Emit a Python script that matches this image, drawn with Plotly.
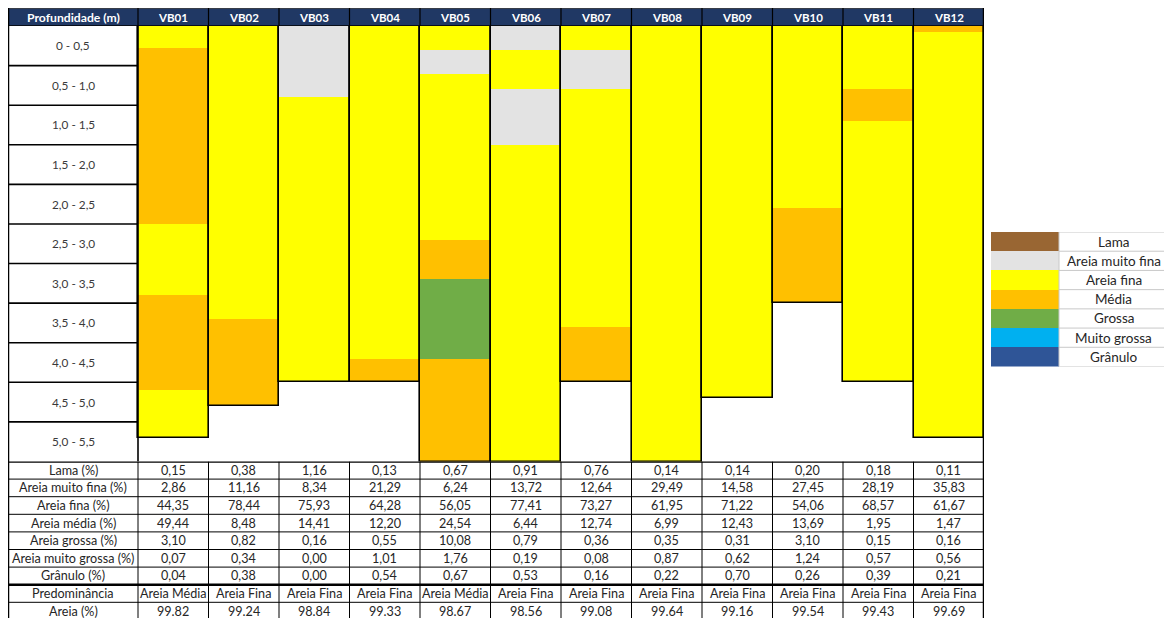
import plotly.graph_objects as go

# ---------------- data ----------------
boreholes = ["VB01", "VB02", "VB03", "VB04", "VB05", "VB06",
             "VB07", "VB08", "VB09", "VB10", "VB11", "VB12"]
depth_labels = ["0 - 0,5", "0,5 - 1,0", "1,0 - 1,5", "1,5 - 2,0", "2,0 - 2,5",
                "2,5 - 3,0", "3,0 - 3,5", "3,5 - 4,0", "4,0 - 4,5", "4,5 - 5,0",
                "5,0 - 5,5"]
depth_step = 0.5
max_depth = 5.5

legend_names = ["Lama", "Areia muito fina", "Areia fina", "Média",
                "Grossa", "Muito grossa", "Grânulo"]
legend_colors = ["#996633", "#E3E3E3", "#FFFF00", "#FFC000",
                 "#70AD47", "#00B0F0", "#2F5597"]

# layers: (type, top m, bottom m)
layers_VB01 = [("Areia fina", 0, 0.28), ("Média", 0.28, 2.5), ("Areia fina", 2.5, 3.4),
               ("Média", 3.4, 4.6), ("Areia fina", 4.6, 5.2)]
layers_VB02 = [("Areia fina", 0, 3.7), ("Média", 3.7, 4.8)]
layers_VB03 = [("Areia muito fina", 0, 0.9), ("Areia fina", 0.9, 4.5)]
layers_VB04 = [("Areia fina", 0, 4.2), ("Média", 4.2, 4.5)]
layers_VB05 = [("Areia fina", 0, 0.3), ("Areia muito fina", 0.3, 0.6), ("Areia fina", 0.6, 2.7),
               ("Média", 2.7, 3.2), ("Grossa", 3.2, 4.2), ("Média", 4.2, 5.5)]
layers_VB06 = [("Areia muito fina", 0, 0.3), ("Areia fina", 0.3, 0.8),
               ("Areia muito fina", 0.8, 1.5), ("Areia fina", 1.5, 5.5)]
layers_VB07 = [("Areia fina", 0, 0.3), ("Areia muito fina", 0.3, 0.8),
               ("Areia fina", 0.8, 3.8), ("Média", 3.8, 4.5)]
layers_VB08 = [("Areia fina", 0, 5.5)]
layers_VB09 = [("Areia fina", 0, 4.7)]
layers_VB10 = [("Areia fina", 0, 2.3), ("Média", 2.3, 3.5)]
layers_VB11 = [("Areia fina", 0, 0.8), ("Média", 0.8, 1.2), ("Areia fina", 1.2, 4.5)]
layers_VB12 = [("Média", 0, 0.08), ("Areia fina", 0.08, 5.2)]
all_layers = [layers_VB01, layers_VB02, layers_VB03, layers_VB04, layers_VB05, layers_VB06,
              layers_VB07, layers_VB08, layers_VB09, layers_VB10, layers_VB11, layers_VB12]

row_labels = ["Lama (%)", "Areia muito fina (%)", "Areia fina (%)", "Areia média (%)",
              "Areia grossa (%)", "Areia muito grossa (%)", "Grânulo (%)",
              "Predominância", "Areia (%)"]
lama = [0.15, 0.38, 1.16, 0.13, 0.67, 0.91, 0.76, 0.14, 0.14, 0.20, 0.18, 0.11]
areia_muito_fina = [2.86, 11.16, 8.34, 21.29, 6.24, 13.72, 12.64, 29.49, 14.58, 27.45, 28.19, 35.83]
areia_fina = [44.35, 78.44, 75.93, 64.28, 56.05, 77.41, 73.27, 61.95, 71.22, 54.06, 68.57, 61.67]
areia_media = [49.44, 8.48, 14.41, 12.20, 24.54, 6.44, 12.74, 6.99, 12.43, 13.69, 1.95, 1.47]
areia_grossa = [3.10, 0.82, 0.16, 0.55, 10.08, 0.79, 0.36, 0.35, 0.31, 3.10, 0.15, 0.16]
areia_muito_grossa = [0.07, 0.34, 0.00, 1.01, 1.76, 0.19, 0.08, 0.87, 0.62, 1.24, 0.57, 0.56]
granulo = [0.04, 0.38, 0.00, 0.54, 0.67, 0.53, 0.16, 0.22, 0.70, 0.26, 0.39, 0.21]
predominancia = ["Areia Média", "Areia Fina", "Areia Fina", "Areia Fina", "Areia Média",
                 "Areia Fina", "Areia Fina", "Areia Fina", "Areia Fina", "Areia Fina",
                 "Areia Fina", "Areia Fina"]
areia_total = [99.82, 99.24, 98.84, 99.33, 98.67, 98.56, 99.08, 99.64, 99.16, 99.54, 99.43, 99.69]

# ---------------- layout geometry (page pixels, figure sits at 8,8) ----------------
OFF = 8
W, H = 1172 - OFF, 618 - OFF
def px(v):
    return v - OFF

col_px = (984 - 138) / 12.0
xl = -0.5 - 130 / col_px      # left edge of label column in x units
xr = len(boreholes) - 0.5
header_top, header_bot = px(8), px(26)
depth_bot = px(461.5)
row_h = 17.6
FONT = "Lato"
TXT = "#262626"
FS = 12.6

def fy(p):
    return 1 - p / H

fig = go.Figure()
color_of = dict(zip(legend_names, legend_colors))

# stratigraphic columns
for name in legend_names:
    xs, bases, ys = [], [], []
    for i, lay in enumerate(all_layers):
        for t, top, bot in lay:
            if t == name:
                xs.append(i); bases.append(top); ys.append(bot - top)
    if xs:
        fig.add_trace(go.Bar(x=xs, y=ys, base=bases, width=1, marker_color=color_of[name],
                             marker_line_width=0, showlegend=False, hoverinfo="skip",
                             xaxis="x", yaxis="y"))
# outline of each column
totals = [max(b for _, _, b in lay) for lay in all_layers]
fig.add_trace(go.Bar(x=list(range(len(boreholes))), y=totals, base=[0] * len(totals), width=1,
                     marker_color="rgba(0,0,0,0)", marker_line_color="black",
                     marker_line_width=1.6, showlegend=False, hoverinfo="skip",
                     xaxis="x", yaxis="y"))

# legend swatches
fig.add_trace(go.Bar(y=[i + 0.5 for i in range(len(legend_names))], x=[1] * len(legend_names),
                     base=[0] * len(legend_names), width=1, orientation="h",
                     marker_color=legend_colors, marker_line_width=0, showlegend=False,
                     hoverinfo="skip", xaxis="x2", yaxis="y4"))

shapes, ann = [], []

def line(x0, x1, y0, y1, yref, w=1, c="black", xref="x"):
    shapes.append(dict(type="line", xref=xref, yref=yref, x0=x0, x1=x1, y0=y0, y1=y1,
                       line=dict(color=c, width=w)))

# header
shapes.append(dict(type="rect", xref="x", yref="y3", x0=xl, x1=xr, y0=0, y1=1,
                   fillcolor="#203864", line=dict(width=0), layer="below"))
line(xl, xr, 0, 0, "y3", 1.5, "#404040")
line(xl, xr, 1, 1, "y3", 1.5)
for k in range(len(boreholes)):
    line(k - 0.5, k - 0.5, 0, 1, "y3", 1.2)
    ann.append(dict(x=k, y=0.5, xref="x", yref="y3", text="<b>%s</b>" % boreholes[k],
                    showarrow=False, xanchor="center",
                    font=dict(family=FONT, size=11.5, color="white")))
ann.append(dict(x=(xl - 0.5) / 2, y=0.5, xref="x", yref="y3", text="<b>Profundidade (m)</b>",
                showarrow=False, xanchor="center",
                font=dict(family=FONT, size=12.2, color="white")))

# depth label column
for j, lab in enumerate(depth_labels):
    ann.append(dict(x=(xl - 0.5) / 2, y=(j + 0.5) * depth_step, xref="x", yref="y", text=lab,
                    showarrow=False, xanchor="center",
                    font=dict(family=FONT, size=11.8, color="#3a3a3a")))
    if j > 0:
        line(xl, -0.5, j * depth_step, j * depth_step, "y", 1.6)
line(-0.5, -0.5, 0, max_depth, "y", 1.6)

# bottom table
table_rows = [lama, areia_muito_fina, areia_fina, areia_media, areia_grossa,
              areia_muito_grossa, granulo]
for r, lab in enumerate(row_labels):
    ann.append(dict(x=(xl - 0.5) / 2, y=r + 0.5, xref="x", yref="y2", text=lab,
                    showarrow=False, xanchor="center",
                    font=dict(family=FONT, size=FS, color=TXT)))
    for k in range(len(boreholes)):
        if r < 7:
            txt = ("%.2f" % table_rows[r][k]).replace(".", ",")
        elif r == 7:
            txt = predominancia[k]
        else:
            txt = "%.2f" % areia_total[k]
        ann.append(dict(x=k, y=r + 0.5, xref="x", yref="y2", text=txt, showarrow=False,
                        xanchor="center", font=dict(family=FONT, size=FS, color=TXT)))
n_rows = len(row_labels)
for r in range(1, n_rows + 1):
    if r != 7:
        line(xl, xr, r, r, "y2", 1)
line(xl, xr, 7, 7, "y2", 2.5)
line(xl, xr, 0, 0, "y2", 2.5)
for k in range(len(boreholes)):
    line(k - 0.5, k - 0.5, 0, n_rows, "y2", 1)
# outer borders
line(xl, xl, 0, fy(header_top), "paper", 2.5, xref="x")
line(xr, xr, 0, fy(header_top), "paper", 2.5, xref="x")

# legend cells
n_leg = len(legend_names)
leg_x0, leg_sw = px(991), 68.0
for i, nm in enumerate(legend_names):
    ann.append(dict(x=px(1113.5) / W, y=i + 0.5, xref="paper", yref="y4", text=nm,
                    showarrow=False, xanchor="center",
                    font=dict(family=FONT, size=13.5, color=TXT)))
for i in range(n_leg + 1):
    line(1, 3, i, i, "y4", 1, "#C8C8C8", xref="x2")
line(1, 1, 0, n_leg, "y4", 1, "#C8C8C8", xref="x2")

fig.update_layout(
    width=W, height=H, margin=dict(l=0, r=0, t=0, b=0),
    paper_bgcolor="white", plot_bgcolor="rgba(0,0,0,0)",
    barmode="overlay", bargap=0, showlegend=False,
    shapes=shapes, annotations=ann,
    xaxis=dict(domain=[px(8) / W, px(984) / W], range=[xl, xr], visible=False, fixedrange=True),
    yaxis=dict(domain=[fy(depth_bot), fy(header_bot)], range=[max_depth, 0], visible=False,
               fixedrange=True),
    yaxis2=dict(domain=[0, fy(depth_bot)], range=[(H - depth_bot) / row_h, 0], visible=False,
                anchor="x", fixedrange=True),
    yaxis3=dict(domain=[fy(header_bot), fy(header_top)], range=[1, 0], visible=False,
                anchor="x", fixedrange=True),
    xaxis2=dict(domain=[leg_x0 / W, 1], range=[0, (W - leg_x0) / leg_sw], visible=False,
                anchor="y4", fixedrange=True),
    yaxis4=dict(domain=[fy(px(366.5)), fy(px(232))], range=[n_leg, 0], visible=False,
                anchor="x2", fixedrange=True),
)

fig.write_html("out.html")
